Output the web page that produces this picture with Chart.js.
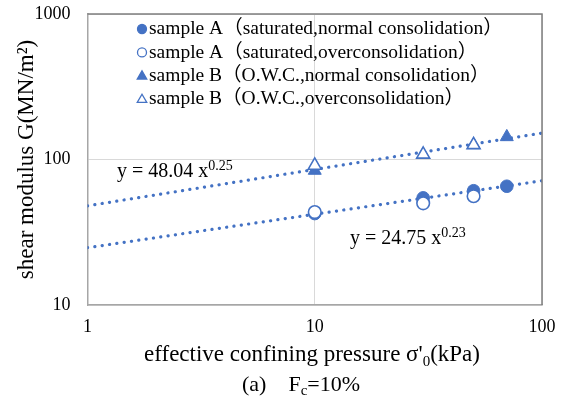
<!DOCTYPE html>
<html><head><meta charset="utf-8">
<script src="https://cdn.jsdelivr.net/npm/chart.js@4"></script>
<style>html,body{margin:0;padding:0;background:#fff}#wrap{width:568px;height:403px}</style>
</head><body><div id="wrap"><canvas id="c" width="568" height="403"></canvas></div>
<script>
// ---- data ----
const pressures = [10, 30, 50, 70];                 // kPa
const aNormal = [42.5, 54.5, 61, 65.5];             // sample A, saturated, NC
const aOver   = [43.5, 50, 56, null];               // sample A, saturated, OC
const bNormal = [84, 108, 126, 143];                // sample B, O.W.C., NC
const bOver   = [91, 108.5, 126, null];             // sample B, O.W.C., OC
const trendX = [1, 100];
const trendA = [24.75, 71.4];                       // y = 24.75 x^0.23
const trendB = [48.04, 151.9];                      // y = 48.04 x^0.25
const xTicks = [1, 10, 100];
const yTicks = [10, 100, 1000];
const legendLabels = [
  'sample A（saturated,normal consolidation）',
  'sample A（saturated,overconsolidation）',
  'sample B（O.W.C.,normal consolidation）',
  'sample B（O.W.C.,overconsolidation）'
];

const BLUE = '#4472C4';
const SERIF = "'Liberation Serif','Times New Roman','Noto Sans CJK JP',serif";

function pts(xs, ys){ return xs.map((x,i)=>({x:x, y:ys[i]})).filter(p=>p.y!=null); }

function drawRich(ctx, parts, x, y, align){
  let w = 0;
  parts.forEach(p=>{ ctx.font = p.size+'px '+SERIF; w += ctx.measureText(p.t).width; });
  let cx = align==='center' ? x - w/2 : x;
  ctx.textBaseline = 'alphabetic'; ctx.textAlign = 'left'; ctx.fillStyle = '#000';
  parts.forEach(p=>{ ctx.font = p.size+'px '+SERIF; ctx.fillText(p.t, cx, y + (p.dy||0)); cx += ctx.measureText(p.t).width; });
}

const annot = {
  id:'annot',
  afterDraw(chart){
    const ctx = chart.ctx, a = chart.chartArea;
    ctx.save();
    // plot area top/right border
    ctx.strokeStyle = '#7f7f7f'; ctx.lineWidth = 1.5;
    ctx.beginPath(); ctx.moveTo(a.left, a.top); ctx.lineTo(a.right, a.top); ctx.lineTo(a.right, a.bottom); ctx.stroke();
    // legend
    const styles = [['circle',true],['circle',false],['triangle',true],['triangle',false]];
    legendLabels.forEach((t,i)=>{
      const y = 29 + i*23.4;
      ctx.fillStyle = styles[i][1] ? BLUE : '#fff';
      ctx.strokeStyle = BLUE; ctx.lineWidth = 1.3;
      Chart.helpers.drawPoint(ctx, {pointStyle: styles[i][0], radius: styles[i][0]==='circle'?4.5:5.5, borderWidth:1.3}, 142, y + (styles[i][0]==='triangle'?0.5:0));
      ctx.font = '19.5px '+SERIF; ctx.fillStyle = '#000'; ctx.textBaseline = 'middle'; ctx.textAlign='left';
      ctx.fillText(t, 149, y);
    });
    // equations
    drawRich(ctx, [{t:'y = 48.04 x', size:20},{t:'0.25', size:14, dy:-7}], 117, 177, 'left');
    drawRich(ctx, [{t:'y = 24.75 x', size:20},{t:'0.23', size:14, dy:-7}], 350, 244, 'left');
    // x axis title
    drawRich(ctx, [{t:"effective confining pressure σ'", size:23},{t:'0', size:15, dy:5},{t:'(kPa)', size:23}], 312, 361, 'center');
    // caption
    drawRich(ctx, [{t:'(a)　F', size:22},{t:'c', size:15, dy:4},{t:'=10%', size:22}], 301, 391, 'center');
    ctx.restore();
  }
};

new Chart(document.getElementById('c'), {
  type:'scatter',
  data:{ datasets:[
    {label:legendLabels[1], data:pts(pressures,aOver), order:1, pointStyle:'circle', pointRadius:6.3, pointBorderWidth:1.6, pointBackgroundColor:'#fff', pointBorderColor:BLUE, showLine:false},
    {label:legendLabels[3], data:pts(pressures,bOver), order:1, pointStyle:'triangle', pointRadius:7.5, pointBorderWidth:1.6, pointBackgroundColor:'#fff', pointBorderColor:BLUE, showLine:false},
    {label:legendLabels[0], data:pts(pressures,aNormal), order:2, pointStyle:'circle', pointRadius:6.3, pointBorderWidth:1, pointBackgroundColor:BLUE, pointBorderColor:BLUE, showLine:false},
    {label:legendLabels[2], data:pts(pressures,bNormal), order:2, pointStyle:'triangle', pointRadius:7.5, pointBorderWidth:1, pointBackgroundColor:BLUE, pointBorderColor:BLUE, showLine:false},
    {label:'trend A', data:pts(trendX,trendA), order:3, showLine:true, pointRadius:0, borderColor:BLUE, borderWidth:3.2, borderDash:[0.1,7.3], borderCapStyle:'round', fill:false},
    {label:'trend B', data:pts(trendX,trendB), order:3, showLine:true, pointRadius:0, borderColor:BLUE, borderWidth:3.2, borderDash:[0.1,7.3], borderCapStyle:'round', fill:false}
  ]},
  options:{
    responsive:false, animation:false, devicePixelRatio:1,
    layout:{padding:{top:14, right:26, left:0, bottom:0}},
    plugins:{legend:{display:false}, tooltip:{enabled:false}},
    scales:{
      x:{type:'logarithmic', min:1, max:100,
        afterBuildTicks:s=>{ s.ticks = xTicks.map(v=>({value:v})); },
        afterFit:s=>{ s.height = 98; },
        ticks:{callback:v=>String(v), color:'#000', font:{family:SERIF, size:18}, padding:11, maxRotation:0, autoSkip:false},
        grid:{color:'#d9d9d9', lineWidth:1, drawTicks:false},
        border:{color:'#a6a6a6', width:1.5}
      },
      y:{type:'logarithmic', min:10, max:1000,
        afterBuildTicks:s=>{ s.ticks = yTicks.map(v=>({value:v})); },
        afterFit:s=>{ s.width = 87.5; s.paddingTop = 0; s.paddingBottom = 0; },
        ticks:{callback:v=>String(v), color:'#000', font:{family:SERIF, size:18}, padding:17, autoSkip:false},
        grid:{color:'#d9d9d9', lineWidth:1, drawTicks:false},
        border:{color:'#a6a6a6', width:1.5},
        title:{display:true, text:'shear modulus G(MN/m²)', color:'#000', font:{family:SERIF, size:23}, padding:{top:13, bottom:0}}
      }
    }
  },
  plugins:[annot]
});
</script></body></html>
